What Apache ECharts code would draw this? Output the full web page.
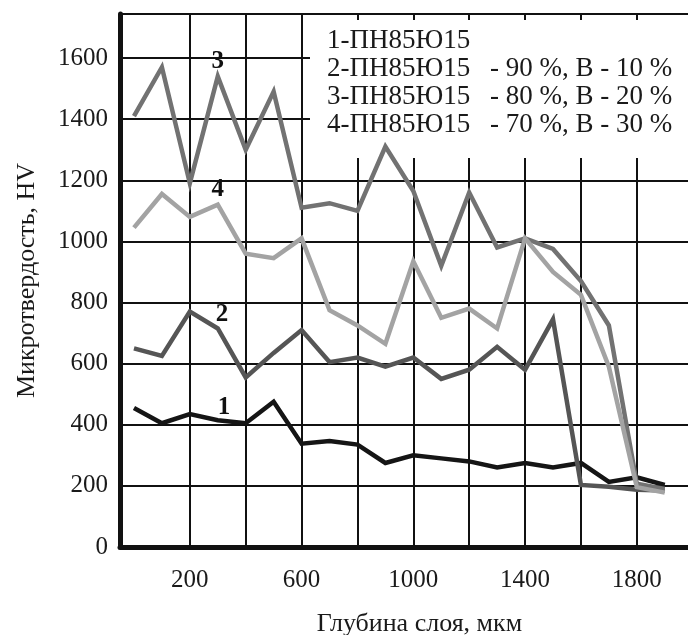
<!DOCTYPE html>
<html>
<head>
<meta charset="utf-8">
<script src="https://cdn.jsdelivr.net/npm/echarts/dist/echarts.min.js"></script>
<style>
html,body{margin:0;padding:0;background:#fff;}
#chart{width:688px;height:635px;}
</style>
</head>
<body>
<div id="chart"></div>
<script>
// Depth, мкм
const depth = [0,100,200,300,400,500,600,700,800,900,1000,1100,1200,1300,1400,1500,1600,1700,1800,1900];
// Series values (HV)
const s1 = [455,405,435,415,405,475,338,347,335,275,300,290,280,260,275,260,275,213,228,203];
const s2 = [650,625,770,715,555,635,710,605,620,590,620,550,580,655,580,745,203,197,187,185];
const s3 = [1410,1570,1190,1540,1300,1490,1110,1125,1100,1310,1165,920,1160,980,1010,975,870,725,207,190];
const s4 = [1045,1155,1080,1120,960,945,1010,775,725,665,935,750,780,715,1010,900,825,590,196,178];
const seriesNames = ['1','2','3','4'];
const legendHead = ['1-ПН85Ю15','2-ПН85Ю15','3-ПН85Ю15','4-ПН85Ю15'];
const legendTail = ['','- 90 %, B - 10 %','- 80 %, B - 20 %','- 70 %, B - 30 %'];
const xLabelValues = [200,600,1000,1400,1800];
const xGridValues = [200,400,600,800,1000,1200,1400,1600,1800];
// curve number label anchors [depth, HV]
const curveLabelPos = [[322,455],[315,759],[300,1590],[300,1168]];

const FONT = '"Liberation Serif","Times New Roman",serif';
const colors = ['#151515','#555555','#727272','#a3a3a3'];
const values = [s1,s2,s3,s4];

const chart = echarts.init(document.getElementById('chart'), null, {renderer:'canvas'});

const series = values.map((vals, i) => ({
  name: seriesNames[i],
  type: 'line',
  data: depth.map((d, k) => [d, vals[k]]),
  symbol: 'none',
  lineStyle: {color: colors[i], width: 4.5, join: 'miter'},
  itemStyle: {color: colors[i]},
  z: 3 + i,
  animation: false,
  markPoint: {
    symbol: 'circle',
    symbolSize: 1,
    itemStyle: {color: 'rgba(0,0,0,0)'},
    label: {show: true, position: 'inside', formatter: seriesNames[i], color: '#111',
            fontFamily: FONT, fontSize: 25, fontWeight: 'bold'},
    data: [{coord: curveLabelPos[i]}],
    animation: false
  }
}));

const legendChildren = [{
  type: 'rect', left: 310, top: 20, z: 2,
  shape: {width: 390, height: 138},
  style: {fill: '#ffffff'}
}];
legendHead.forEach((t, i) => {
  legendChildren.push({
    type: 'text', left: 327, top: 27 + i * 28, z: 10,
    style: {text: t, font: '27px ' + FONT, fill: '#1a1a1a'}
  });
  if (legendTail[i]) {
    legendChildren.push({
      type: 'text', left: 490, top: 27 + i * 28, z: 10,
      style: {text: legendTail[i], font: '27px ' + FONT, fill: '#1a1a1a'}
    });
  }
});

chart.setOption({
  animation: false,
  backgroundColor: '#fff',
  grid: {left: 120, top: 14, right: -3, bottom: 88, show: true, containLabel: false,
         outerBoundsMode: 'none',
         borderColor: '#111', borderWidth: 2, backgroundColor: 'transparent'},
  xAxis: {
    type: 'value', min: -50, max: 1994,
    name: 'Глубина слоя, мкм', nameLocation: 'middle', nameGap: 64,
    nameTextStyle: {fontFamily: FONT, fontSize: 26, color: '#1a1a1a', padding: [0,0,0,28]},
    axisLine: {show: true, onZero: false, lineStyle: {color: '#111', width: 5}},
    axisTick: {show: false, customValues: xGridValues},
    axisLabel: {customValues: xLabelValues, fontFamily: FONT, fontSize: 25, color: '#1a1a1a', margin: 21,
                formatter: v => String(v)},
    splitLine: {show: true, lineStyle: {color: '#111', width: 2}}
  },
  yAxis: {
    type: 'value', min: 0, max: 1744, interval: 200,
    name: 'Микротвердость, HV', nameLocation: 'middle', nameGap: 80,
    nameTextStyle: {fontFamily: FONT, fontSize: 26, color: '#1a1a1a'},
    axisLine: {show: true, onZero: false, lineStyle: {color: '#111', width: 5}},
    axisTick: {show: false},
    axisLabel: {fontFamily: FONT, fontSize: 25, color: '#1a1a1a', margin: 12,
                formatter: v => (v <= 1600 ? String(v) : '')},
    splitLine: {show: true, lineStyle: {color: '#111', width: 2}}
  },
  graphic: [{type: 'group', z: 2, children: legendChildren}],
  series: series
});
</script>
</body>
</html>
